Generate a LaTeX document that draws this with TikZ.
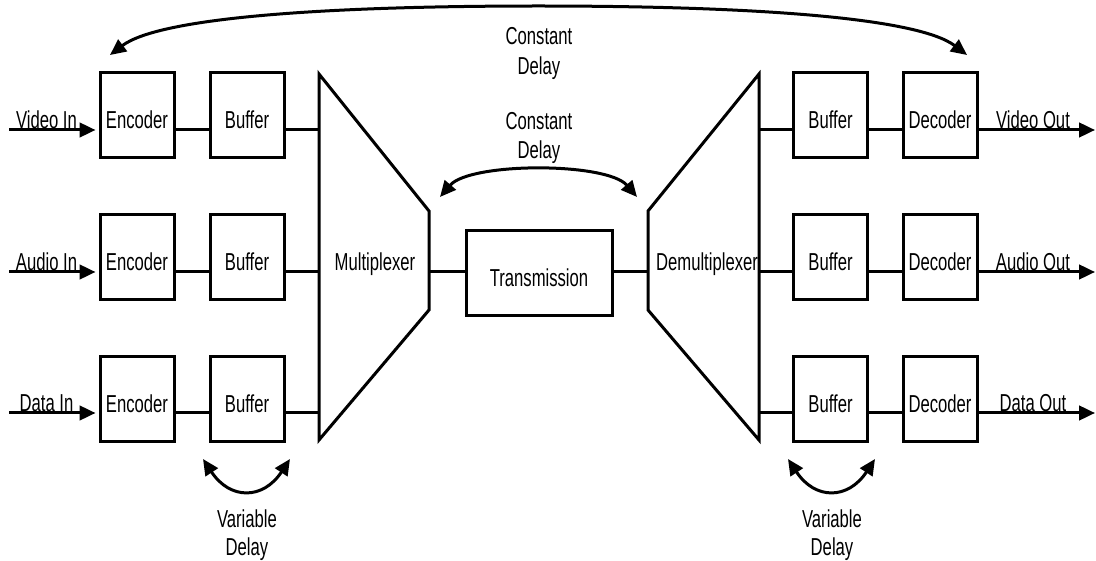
\documentclass[tikz,border=0pt]{standalone}
\usepackage{fontspec}
\setmainfont{Liberation Sans}[FakeStretch=0.68]
\usetikzlibrary{arrows.meta,calc}
\begin{document}
\begin{tikzpicture}[x=1pt,y=-1pt,line width=3pt,
  every node/.style={font=\fontsize{24.5pt}{30pt}\selectfont},
  blk/.style={draw,minimum width=74pt,minimum height=85pt,inner sep=0pt,text height=27pt,text depth=0pt},
  lbl/.style={anchor=base,inner sep=0pt},
  tipa/.tip={Triangle[length=16pt,width=14.5pt]},
  arr/.style={-tipa},
  darr/.style={tipa-tipa}]
\fill[white] (0,0) rectangle (1096,561);
\useasboundingbox (0,0) rectangle (1096,561);
% row lines
\coordinate (r1) at (0,130);
\coordinate (r2) at (0,272);
\coordinate (r3) at (0,413);
% blocks
\node[blk] (enc1) at (137,115.5) {Encoder};
\node[blk] (buf1) at (247,115.5) {Buffer};
\node[blk] (enc2) at (137,257) {Encoder};
\node[blk] (buf2) at (247,257) {Buffer};
\node[blk] (enc3) at (137,399) {Encoder};
\node[blk] (buf3) at (247,399) {Buffer};
\node[blk] (buf4) at (830.5,115.5) {Buffer};
\node[blk] (dec1) at (940,115.5) {Decoder};
\node[blk] (buf5) at (830.5,257) {Buffer};
\node[blk] (dec2) at (940,257) {Decoder};
\node[blk] (buf6) at (830.5,399) {Buffer};
\node[blk] (dec3) at (940,399) {Decoder};
\node[blk,minimum width=146pt] (tx) at (539,273.5) {Transmission};
% multiplexer
\coordinate (m1) at (319,74);
\coordinate (m2) at (429,211);
\coordinate (m3) at (429,310);
\coordinate (m4) at (319,440);
\draw (m1) -- (m2) -- (m3) -- (m4) -- cycle;
\node[lbl] (muxl) at (375,271) {Multiplexer};
% demultiplexer
\coordinate (d1) at (759,74);
\coordinate (d2) at (648,211);
\coordinate (d3) at (648,310);
\coordinate (d4) at (759,440);
\draw (d1) -- (d2) -- (d3) -- (d4) -- cycle;
\node[lbl] (demuxl) at (707,271) {Demultiplexer};
% inputs
\coordinate (vin) at (9,130);
\coordinate (ain) at (9,272);
\coordinate (din) at (9,413);
\draw[arr] (vin) -- ($(enc1.west |- r1)+(-3,0)$);
\draw[arr] (ain) -- ($(enc2.west |- r2)+(-3,0)$);
\draw[arr] (din) -- ($(enc3.west |- r3)+(-3,0)$);
\node[lbl] (tin1) at (46.5,129) {Video In};
\node[lbl] (tin2) at (46.5,271) {Audio In};
\node[lbl] (tin3) at (46.5,412) {Data In};
% left chain
\draw (enc1.east |- r1) -- (buf1.west |- r1);
\draw (enc2.east |- r2) -- (buf2.west |- r2);
\draw (enc3.east |- r3) -- (buf3.west |- r3);
\draw (buf1.east |- r1) -- (m1 |- r1);
\draw (buf2.east |- r2) -- (m1 |- r2);
\draw (buf3.east |- r3) -- (m1 |- r3);
% transmission
\draw (m2 |- r2) -- (tx.west |- r2);
\draw (tx.east |- r2) -- (d2 |- r2);
% right chain
\draw (d1 |- r1) -- (buf4.west |- r1);
\draw (d1 |- r2) -- (buf5.west |- r2);
\draw (d1 |- r3) -- (buf6.west |- r3);
\draw (buf4.east |- r1) -- (dec1.west |- r1);
\draw (buf5.east |- r2) -- (dec2.west |- r2);
\draw (buf6.east |- r3) -- (dec3.west |- r3);
% outputs
\coordinate (vout) at (1095,130);
\coordinate (aout) at (1095,272);
\coordinate (dout) at (1095,413);
\draw[arr] (dec1.east |- r1) -- (vout);
\draw[arr] (dec2.east |- r2) -- (aout);
\draw[arr] (dec3.east |- r3) -- (dout);
\node[lbl] (tout1) at (1033,129) {Video Out};
\node[lbl] (tout2) at (1033,271) {Audio Out};
\node[lbl] (tout3) at (1033,412) {Data Out};
% constant delay (top)
\coordinate (cdL) at (110,55);
\coordinate (cdT) at (538.5,6);
\coordinate (cdR) at (967,55);
\draw[darr] (cdL) .. controls (160,17) and (330,6) .. (cdT) .. controls (747,6) and (917,17) .. (cdR);
\node[lbl] (cd1a) at (539,45) {Constant};
\node[lbl] (cd1b) at (539,75) {Delay};
% constant delay (middle)
\coordinate (ccL) at (440,197);
\coordinate (ccR) at (637,197);
\draw[darr] (ccL) .. controls (470,162) and (607,162) .. (ccR);
\node[lbl] (cd2a) at (539,130) {Constant};
\node[lbl] (cd2b) at (539,159) {Delay};
% variable delays
\coordinate (vaL) at (203,459);
\coordinate (vaR) at (290,459);
\draw[darr] (vaL) .. controls (230,500) and (263,500) .. (vaR);
\node[lbl] (vd1a) at (247,527) {Variable};
\node[lbl] (vd1b) at (247,555) {Delay};
\coordinate (vbL) at (788,459);
\coordinate (vbR) at (875,459);
\draw[darr] (vbL) .. controls (815,500) and (848,500) .. (vbR);
\node[lbl] (vd2a) at (832,527) {Variable};
\node[lbl] (vd2b) at (832,555) {Delay};
\end{tikzpicture}
\end{document}
